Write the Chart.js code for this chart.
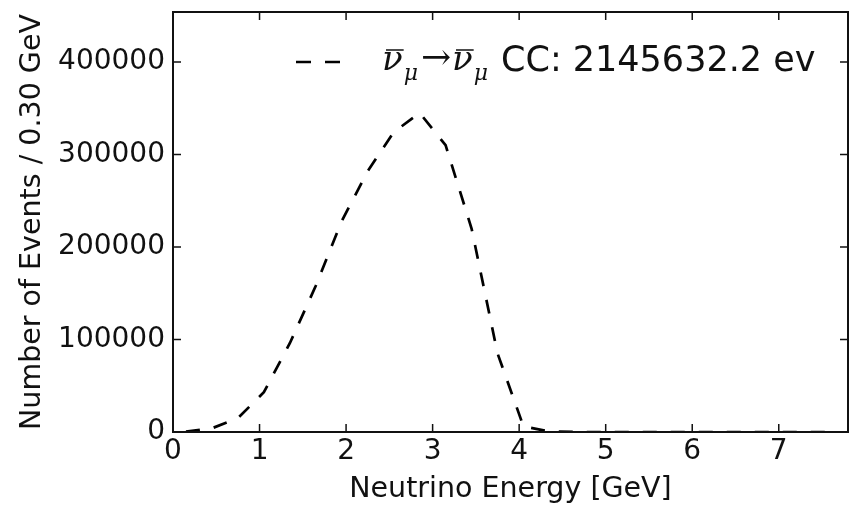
<!DOCTYPE html>
<html>
<head>
<meta charset="utf-8">
<script src="https://cdn.jsdelivr.net/npm/chart.js@4/dist/chart.umd.min.js"></script>
<style>
  html, body { margin: 0; padding: 0; background: #fff; }
</style>
</head>
<body>
<canvas id="chart" width="850" height="507"></canvas>
<script>
// bin centres (0.30 GeV bins) and event counts
const binCenters = [0.15, 0.45, 0.75, 1.05, 1.35, 1.65, 1.95, 2.25, 2.55, 2.85,
  3.15, 3.45, 3.75, 4.05, 4.35, 4.65, 4.95, 5.25, 5.55, 5.85, 6.15, 6.45, 6.75, 7.05, 7.35, 7.65]
const events = [500, 4000, 15000, 43000, 96000, 158000, 228000, 282000, 324000, 345000,
  310000, 220000, 85000, 6000, 500, 0, 0, 0, 0, 0, 0, 0, 0, 0, 0, 0]
const xTicks = [0, 1, 2, 3, 4, 5, 6, 7]
const yTicks = [0, 100000, 200000, 300000, 400000]
const legendCount = 'CC: 2145632.2 ev'

const ink = '#111'
const font = '"DejaVu Sans", sans-serif'

// matplotlib-like box with inward ticks on all four sides
const framePlugin = {
  id: 'frame',
  afterDraw(chart) {
    const { ctx, chartArea: a, scales } = chart
    ctx.save()
    ctx.strokeStyle = ink
    ctx.lineWidth = 1.5
    ctx.setLineDash([])
    ctx.beginPath()
    scales.x.ticks.forEach(t => {
      const px = scales.x.getPixelForValue(t.value)
      ctx.moveTo(px, a.bottom); ctx.lineTo(px, a.bottom - 8)
      ctx.moveTo(px, a.top); ctx.lineTo(px, a.top + 8)
    })
    scales.y.ticks.forEach(t => {
      const py = scales.y.getPixelForValue(t.value)
      ctx.moveTo(a.left, py); ctx.lineTo(a.left + 8, py)
      ctx.moveTo(a.right, py); ctx.lineTo(a.right - 8, py)
    })
    ctx.stroke()
    ctx.lineWidth = 2
    ctx.strokeRect(a.left, a.top, a.right - a.left, a.bottom - a.top)
    ctx.restore()
  }
}

// legend: dashed sample + nu-bar_mu -> nu-bar_mu CC: ...
const legendPlugin = {
  id: 'mplLegend',
  afterDraw(chart) {
    const { ctx } = chart
    const y = 62
    ctx.save()
    ctx.strokeStyle = '#000'
    ctx.lineWidth = 2.5
    ctx.setLineDash([15, 14])
    ctx.beginPath()
    ctx.moveTo(296, y); ctx.lineTo(340, y)
    ctx.stroke()
    ctx.setLineDash([])

    ctx.fillStyle = ink
    ctx.textBaseline = 'alphabetic'
    const base = 70
    const nuBar = (x) => {
      ctx.font = 'italic 34px "DejaVu Serif", serif'
      ctx.fillText('ν', x, base)
      const w = ctx.measureText('ν').width
      ctx.lineWidth = 1.5
      ctx.strokeStyle = ink
      ctx.beginPath()
      ctx.moveTo(x + 4, 50); ctx.lineTo(x + w + 1, 50)
      ctx.stroke()
      ctx.font = 'italic 22px "DejaVu Serif", serif'
      ctx.fillText('μ', x + w + 1, base + 10)
    }
    nuBar(382)
    ctx.font = '36px "DejaVu Serif", serif'
    ctx.fillText('→', 421, base - 1)
    nuBar(452)
    ctx.font = '35px ' + font
    ctx.fillText(legendCount, 501, base + 1)
    ctx.restore()
  }
}

new Chart(document.getElementById('chart'), {
  type: 'line',
  data: {
    datasets: [{
      data: binCenters.map((x, i) => ({ x, y: events[i] })),
      borderColor: '#000',
      borderWidth: 2.7,
      borderDash: [14, 14],
      pointRadius: 0,
      tension: 0,
      fill: false
    }]
  },
  options: {
    responsive: false,
    animation: false,
    devicePixelRatio: 1,
    layout: { padding: { top: 12, right: 2, left: 0, bottom: 0 } },
    plugins: {
      legend: { display: false },
      tooltip: { enabled: false }
    },
    scales: {
      x: {
        type: 'linear',
        min: 0,
        max: 7.8,
        afterBuildTicks: s => { s.ticks = xTicks.map(v => ({ value: v })) },
        afterFit: s => { s.height = 75; s.paddingLeft = 0; s.paddingRight = 0 },
        grid: { display: false, drawTicks: false },
        border: { display: false },
        ticks: { color: ink, font: { family: font, size: 28 }, padding: 3, maxRotation: 0 },
        title: {
          display: true,
          text: 'Neutrino Energy [GeV]',
          color: ink,
          font: { family: font, size: 28.5 },
          padding: { top: 0, bottom: 0 }
        }
      },
      y: {
        min: 0,
        max: 454000,
        afterBuildTicks: s => { s.ticks = yTicks.map(v => ({ value: v })) },
        afterFit: s => { s.width = 173; s.paddingTop = 0; s.paddingBottom = 0 },
        grid: { display: false, drawTicks: false },
        border: { display: false },
        ticks: {
          color: ink,
          font: { family: font, size: 28 },
          padding: 8,
          callback: v => String(v)
        },
        title: {
          display: true,
          text: 'Number of Events / 0.30 GeV',
          color: ink,
          font: { family: font, size: 28.5 },
          padding: { top: 15, bottom: 0 }
        }
      }
    }
  },
  plugins: [framePlugin, legendPlugin]
})
</script>
</body>
</html>
